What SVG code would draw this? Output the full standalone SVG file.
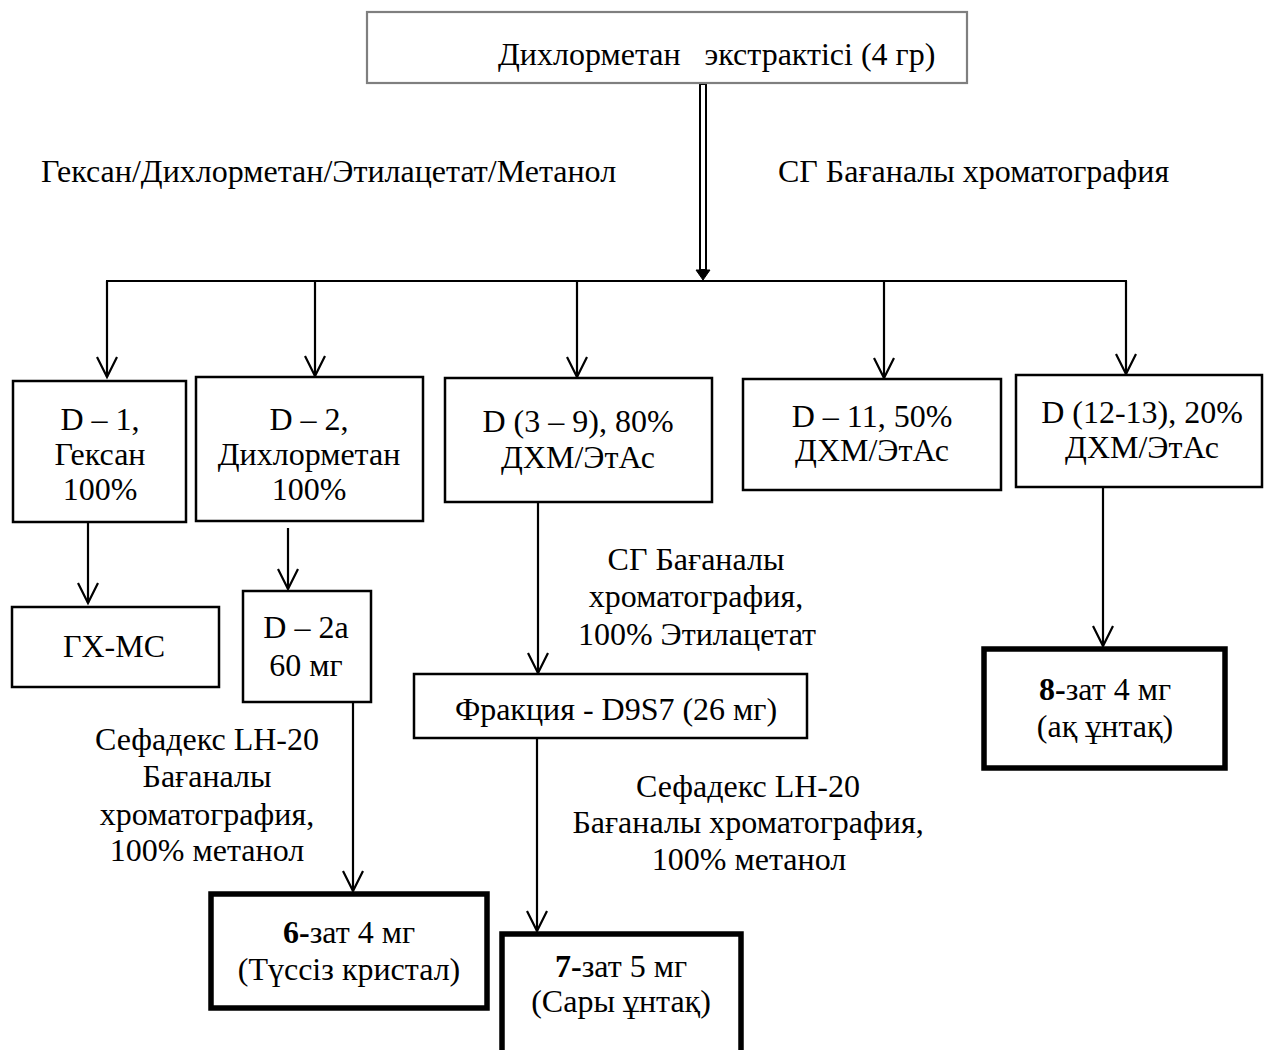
<svg xmlns="http://www.w3.org/2000/svg" width="1265" height="1050" viewBox="0 0 1265 1050">
<style>
text{font-family:"Liberation Serif","Times New Roman",serif;font-size:32px;fill:#000}
.c{text-anchor:middle}
.box{fill:#fff;stroke:#000;stroke-width:2.5}
.thick{fill:#fff;stroke:#000;stroke-width:5.5}
.ln{fill:none;stroke:#000;stroke-width:2.2}
</style>
<defs>
<marker id="ah" markerUnits="userSpaceOnUse" viewBox="-22 -12 24 24" refX="0" refY="0" markerWidth="24" markerHeight="24" orient="auto" overflow="visible">
<path d="M-20,-10 L0,0 L-20,10" fill="none" stroke="#000" stroke-width="2.2"/>
</marker>
</defs>
<rect width="1265" height="1050" fill="#fff"/>

<g id="connectors">
<path d="M700,84 L706,84 L706,270 L700,270 Z" fill="#fff" stroke="#000" stroke-width="2"/>
<path d="M696,270 L710,270 L703,280 Z" fill="#000" stroke="#000" stroke-width="1"/>
<line class="ln" x1="106" y1="281" x2="1127" y2="281" stroke-width="2.5"/>
<line class="ln" x1="107" y1="281" x2="107" y2="377" marker-end="url(#ah)"/>
<line class="ln" x1="315" y1="281" x2="315" y2="376" marker-end="url(#ah)"/>
<line class="ln" x1="577" y1="281" x2="577" y2="377" marker-end="url(#ah)"/>
<line class="ln" x1="884" y1="281" x2="884" y2="378" marker-end="url(#ah)"/>
<line class="ln" x1="1126" y1="281" x2="1126" y2="374" marker-end="url(#ah)"/>
<line class="ln" x1="88" y1="523" x2="88" y2="603" marker-end="url(#ah)"/>
<line class="ln" x1="288" y1="528" x2="288" y2="589" marker-end="url(#ah)"/>
<line class="ln" x1="353" y1="702" x2="353" y2="891" marker-end="url(#ah)"/>
<line class="ln" x1="538" y1="502" x2="538" y2="673" marker-end="url(#ah)"/>
<line class="ln" x1="537" y1="738" x2="537" y2="931" marker-end="url(#ah)"/>
<line class="ln" x1="1103" y1="487" x2="1103" y2="646" marker-end="url(#ah)"/>
</g>

<g id="labels">
<text x="41" y="182">Гексан/Дихлорметан/Этилацетат/Метанол</text>
<text x="778" y="182">СГ Бағаналы хроматография</text>
<text class="c" x="696" y="570">СГ Бағаналы</text>
<text class="c" x="696" y="607">хроматография,</text>
<text class="c" x="697" y="645">100% Этилацетат</text>
<text class="c" x="207" y="750">Сефадекс LH-20</text>
<text class="c" x="207" y="787">Бағаналы</text>
<text class="c" x="207" y="825">хроматография,</text>
<text class="c" x="207" y="861">100% метанол</text>
<text class="c" x="748" y="797">Сефадекс LH-20</text>
<text class="c" x="748" y="833">Бағаналы хроматография,</text>
<text class="c" x="749" y="870">100% метанол</text>
</g>

<g id="n-top">
<rect x="367" y="12" width="600" height="71" fill="#fff" stroke="#7f7f7f" stroke-width="2.2"/>
<text x="498" y="65" xml:space="preserve">Дихлорметан   экстрактісі (4 гр)</text>
</g>

<g id="n-d1">
<rect class="box" x="13" y="381" width="173" height="141"/>
<text class="c" x="100" y="430">D – 1,</text>
<text class="c" x="100" y="465">Гексан</text>
<text class="c" x="100" y="500">100%</text>
</g>

<g id="n-d2">
<rect class="box" x="196" y="377" width="227" height="144"/>
<text class="c" x="309" y="430">D – 2,</text>
<text class="c" x="309" y="465">Дихлорметан</text>
<text class="c" x="309" y="500">100%</text>
</g>

<g id="n-d39">
<rect class="box" x="445" y="378" width="267" height="124"/>
<text class="c" x="578" y="432">D (3 – 9), 80%</text>
<text class="c" x="578" y="468">ДХМ/ЭтАс</text>
</g>

<g id="n-d11">
<rect class="box" x="743" y="379" width="258" height="111"/>
<text class="c" x="872" y="427">D – 11, 50%</text>
<text class="c" x="872" y="461">ДХМ/ЭтАс</text>
</g>

<g id="n-d1213">
<rect class="box" x="1016" y="375" width="246" height="112"/>
<text class="c" x="1142" y="423">D (12-13), 20%</text>
<text class="c" x="1142" y="458">ДХМ/ЭтАс</text>
</g>

<g id="n-gxms">
<rect class="box" x="12" y="607" width="207" height="80"/>
<text class="c" x="114" y="657">ГХ-МС</text>
</g>

<g id="n-d2a">
<rect class="box" x="243" y="591" width="128" height="111"/>
<text class="c" x="306" y="638">D – 2a</text>
<text class="c" x="306" y="676">60 мг</text>
</g>

<g id="n-frac">
<rect class="box" x="414" y="674" width="393" height="64"/>
<text class="c" x="616" y="720">Фракция - D9S7 (26 мг)</text>
</g>

<g id="n-s6">
<rect class="thick" x="211" y="894" width="276" height="114"/>
<text class="c" x="349" y="943"><tspan font-weight="bold">6-</tspan>зат 4 мг</text>
<text class="c" x="349" y="980">(Түссіз кристал)</text>
</g>

<g id="n-s7">
<rect class="thick" x="502" y="934" width="239" height="130"/>
<text class="c" x="621" y="977"><tspan font-weight="bold">7-</tspan>зат 5 мг</text>
<text class="c" x="621" y="1012">(Сары ұнтақ)</text>
</g>

<g id="n-s8">
<rect class="thick" x="984" y="649" width="241" height="119"/>
<text class="c" x="1105" y="700"><tspan font-weight="bold">8-</tspan>зат 4 мг</text>
<text class="c" x="1105" y="737">(ақ ұнтақ)</text>
</g>
</svg>
